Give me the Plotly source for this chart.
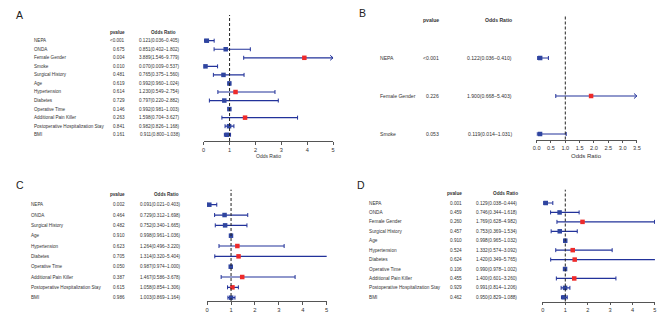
import plotly.graph_objects as go

W, H = 669, 313

# ---------------- Data ----------------
A_vars = ["NEPA", "ONDA", "Female Gender", "Smoke", "Surgical History", "Age", "Hypertension",
          "Diabetes", "Operative Time", "Additional Pain Killer",
          "Postoperative Hospitalization Stay", "BMI"]
A_pval = ["<0.001", "0.675", "0.004", "0.010", "0.481", "0.619", "0.614", "0.729", "0.146",
          "0.263", "0.841", "0.161"]
A_or = [0.121, 0.851, 3.889, 0.070, 0.765, 0.992, 1.230, 0.797, 0.992, 1.598, 0.982, 0.911]
A_lo = [0.036, 0.402, 1.546, 0.009, 0.375, 0.960, 0.549, 0.220, 0.981, 0.704, 0.826, 0.800]
A_hi = [0.405, 1.802, 9.779, 0.537, 1.560, 1.024, 2.754, 2.882, 1.003, 3.627, 1.168, 1.038]

B_vars = ["NEPA", "Female Gender", "Smoke"]
B_pval = ["<0.001", "0.226", "0.053"]
B_or = [0.122, 1.900, 0.119]
B_lo = [0.036, 0.668, 0.014]
B_hi = [0.410, 5.403, 1.031]

C_vars = ["NEPA", "ONDA", "Surgical History", "Age", "Hypertension", "Diabetes",
          "Operative Time", "Additional Pain Killer", "Postoperative Hospitalization Stay", "BMI"]
C_pval = ["0.002", "0.464", "0.482", "0.910", "0.623", "0.705", "0.050", "0.387", "0.615", "0.986"]
C_or = [0.091, 0.729, 0.752, 0.998, 1.264, 1.314, 0.987, 1.467, 1.058, 1.003]
C_lo = [0.021, 0.312, 0.340, 0.961, 0.496, 0.320, 0.974, 0.586, 0.854, 0.869]
C_hi = [0.403, 1.698, 1.665, 1.036, 3.220, 5.404, 1.000, 3.678, 1.306, 1.164]

D_vars = ["NEPA", "ONDA", "Female Gender", "Surgical History", "Age", "Hypertension", "Diabetes",
          "Operative Time", "Additional Pain Killer", "Postoperative Hospitalization Stay", "BMI"]
D_pval = ["0.001", "0.459", "0.260", "0.457", "0.910", "0.524", "0.624", "0.106", "0.455",
          "0.929", "0.462"]
D_or = [0.129, 0.746, 1.769, 0.753, 0.998, 1.332, 1.420, 0.990, 1.400, 0.991, 0.950]
D_lo = [0.038, 0.344, 0.628, 0.369, 0.965, 0.574, 0.349, 0.978, 0.601, 0.814, 0.829]
D_hi = [0.444, 1.618, 4.982, 1.534, 1.032, 3.092, 5.765, 1.002, 3.260, 1.206, 1.088]

A_ticks = [0, 1, 2, 3, 4, 5]
B_ticks = [0.0, 0.5, 1.0, 1.5, 2.0, 2.5, 3.0, 3.5]
C_ticks = [0, 1, 2, 3, 4, 5]
D_ticks = [0, 1, 2, 3, 4, 5]

panels = [
    dict(label="A", vars=A_vars, pval=A_pval, orv=A_or, lo=A_lo, hi=A_hi, ticks=A_ticks, tfmt="d",
         xmax=5, clip=5, x0px=194, x1px=325, axis_y=133, row0=32.7, step=8.55, dash_top=7,
         names_x=20, pval_r=116.7, or_r=172, orh_r=168, lab_x=2, lab_y=7, fs=4.6, tfs=5.6,
         ttl_fs=5.0, ttl_y=147.5),
    dict(label="B", vars=B_vars, pval=B_pval, orv=B_or, lo=B_lo, hi=B_hi, ticks=B_ticks, tfmt=".1f",
         xmax=3.5, clip=3.5, x0px=531, x1px=632.5, axis_y=131.5, row0=50, step=38, dash_top=7,
         names_x=370, pval_r=434, or_r=508, orh_r=508, lab_x=349, lab_y=5.5, fs=5.1, tfs=5.6,
         ttl_fs=6.0, ttl_y=148),
    dict(label="C", vars=C_vars, pval=C_pval, orv=C_or, lo=C_lo, hi=C_hi, ticks=C_ticks, tfmt="d",
         xmax=5, clip=None, x0px=197.5, x1px=318.5, axis_y=293, row0=196.7, step=10.33,
         dash_top=181.7, names_x=17, pval_r=116, or_r=173, orh_r=171, lab_x=2, lab_y=176.5,
         fs=4.6, tfs=5.8, ttl_fs=5.2, ttl_y=308.5),
    dict(label="D", vars=D_vars, pval=D_pval, orv=D_or, lo=D_lo, hi=D_hi, ticks=D_ticks, tfmt="d",
         xmax=5, clip=None, x0px=537.3, x1px=650.7, axis_y=293.5, row0=195, step=9.43,
         dash_top=181.7, names_x=359, pval_r=457, or_r=513.5, orh_r=514, lab_x=347, lab_y=177,
         fs=4.7, tfs=5.6, ttl_fs=5.0, ttl_y=308.5),
]

LINE = "#22329a"
BLUE = "#2f45a0"
RED = "#ee2a2a"
TXT = "#333333"
FONT = "Liberation Sans, Arial, sans-serif"

fig = go.Figure()
annotations = []
shapes = []
layout = {}

for k, p in enumerate(panels, start=1):
    xa = "x" if k == 1 else f"x{k}"
    ya = "y" if k == 1 else f"y{k}"
    n = len(p["vars"])
    rows = list(range(n))
    px_per_unit = (p["x1px"] - p["x0px"]) / p["xmax"]

    clip = p["clip"]
    hi_draw = [min(h, clip) if clip is not None else h for h in p["hi"]]
    clipped = [clip is not None and h > clip for h in p["hi"]]

    # CI lines
    lx, ly = [], []
    for i in rows:
        lx += [p["lo"][i], hi_draw[i], None]
        ly += [i, i, None]
    fig.add_trace(go.Scatter(x=lx, y=ly, mode="lines", line=dict(color=LINE, width=1.2),
                             xaxis=xa, yaxis=ya, cliponaxis=False, hoverinfo="skip"))
    # caps (short vertical segments) and arrows for clipped intervals
    cx, cy = [], []
    ch = 2.0 / p["step"]
    dx = 3.0 / px_per_unit
    dy = 2.5 / p["step"]
    for i in rows:
        cx += [p["lo"][i], p["lo"][i], None]
        cy += [i - ch, i + ch, None]
        if clipped[i]:
            cx += [hi_draw[i] - dx, hi_draw[i], hi_draw[i] - dx, None]
            cy += [i - dy, i, i + dy, None]
        else:
            cx += [hi_draw[i], hi_draw[i], None]
            cy += [i - ch, i + ch, None]
    fig.add_trace(go.Scatter(x=cx, y=cy, mode="lines", line=dict(color=LINE, width=1.0),
                             xaxis=xa, yaxis=ya, cliponaxis=False, hoverinfo="skip"))
    # point estimates
    cols = [RED if v > 1.01 else BLUE for v in p["orv"]]
    fig.add_trace(go.Scatter(x=p["orv"], y=rows, mode="markers",
                             marker=dict(symbol="square", size=4.5, color=cols, line=dict(width=0)),
                             xaxis=xa, yaxis=ya, cliponaxis=False, hoverinfo="skip"))

    # axes
    bot_idx = (p["axis_y"] - p["row0"]) / p["step"]
    top_idx = (p["dash_top"] - p["row0"]) / p["step"]
    layout["yaxis" if k == 1 else f"yaxis{k}"] = dict(
        domain=[1 - p["axis_y"] / H, 1 - p["dash_top"] / H], range=[bot_idx, top_idx],
        visible=False, fixedrange=True)
    tick_text = [format(t, p["tfmt"]) if p["tfmt"] != "d" else str(int(t)) for t in p["ticks"]]
    layout["xaxis" if k == 1 else f"xaxis{k}"] = dict(
        domain=[p["x0px"] / W, p["x1px"] / W], range=[0, p["xmax"]], anchor=ya,
        showline=True, linecolor="#555555", linewidth=0.8, ticks="outside", ticklen=3,
        tickwidth=0.8, tickcolor="#555555", tickvals=p["ticks"], ticktext=tick_text,
        tickfont=dict(size=p["tfs"], color=TXT, family=FONT), showgrid=False, zeroline=False,
        fixedrange=True)

    # reference line at OR = 1
    shapes.append(dict(type="line", xref=xa, yref=f"{ya} domain", x0=1, x1=1, y0=0, y1=1,
                       line=dict(color="#222222", width=1, dash="3px,2px")))

    # texts
    f = dict(size=p["fs"], color=TXT, family=FONT)
    annotations.append(dict(text="<b>pvalue</b>", x=p["pval_r"] / W, xref="paper", y=-1, yref=ya,
                            xanchor="right", yanchor="middle", showarrow=False, font=f))
    annotations.append(dict(text="<b>Odds Ratio</b>", x=p["orh_r"] / W, xref="paper", y=-1,
                            yref=ya, xanchor="right", yanchor="middle", showarrow=False, font=f))
    for i in rows:
        annotations.append(dict(text=p["vars"][i], x=p["names_x"] / W, xref="paper", y=i, yref=ya,
                                xanchor="left", yanchor="middle", showarrow=False, font=f))
        annotations.append(dict(text=p["pval"][i], x=p["pval_r"] / W, xref="paper", y=i, yref=ya,
                                xanchor="right", yanchor="middle", showarrow=False, font=f))
        ortxt = "{:.3f}({:.3f}–{:.3f})".format(p["orv"][i], p["lo"][i], p["hi"][i])
        annotations.append(dict(text=ortxt, x=p["or_r"] / W, xref="paper", y=i, yref=ya,
                                xanchor="right", yanchor="middle", showarrow=False, font=f))
    # axis title (centred on the drawn extent)
    extent = max(hi_draw)
    annotations.append(dict(text="Odds Ratio", x=extent / 2, xref=xa, y=1 - p["ttl_y"] / H,
                            yref="paper", xanchor="center", yanchor="middle", showarrow=False,
                            borderpad=0, font=dict(size=p["ttl_fs"], color=TXT, family=FONT)))
    # panel label
    annotations.append(dict(text=p["label"], x=p["lab_x"] / W, xref="paper", y=1 - p["lab_y"] / H,
                            yref="paper", xanchor="left", yanchor="middle", showarrow=False,
                            font=dict(size=10.5, color="#222222", family=FONT)))

fig.update_layout(
    width=W, height=H, margin=dict(l=0, r=0, t=0, b=0),
    paper_bgcolor="white", plot_bgcolor="rgba(0,0,0,0)", showlegend=False,
    annotations=annotations, shapes=shapes, **layout)

fig.write_html("out.html")
